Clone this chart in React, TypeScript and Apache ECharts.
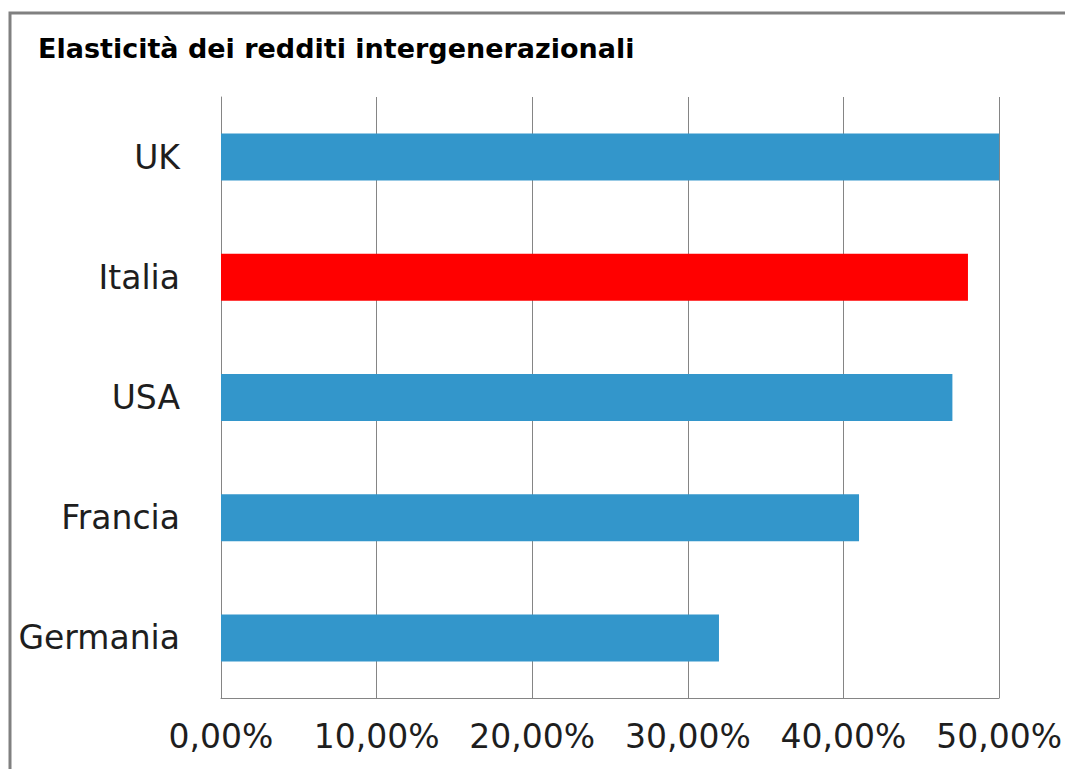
import React, { useEffect, useRef } from "react";
import * as echarts from "echarts";

const titleText = "Elasticità dei redditi intergenerazionali";
const countries = ["UK", "Italia", "USA", "Francia", "Germania"];
const elasticity = [50, 48, 47, 41, 32];
const barColors = ["#3396cb", "#ff0000", "#3396cb", "#3396cb", "#3396cb"];
const axisMax = 50;
const axisStep = 10;

export default function App() {
  const ref = useRef<HTMLDivElement>(null);
  useEffect(() => {
    if (!ref.current) return;
    const chart = echarts.init(ref.current, undefined, { renderer: "svg" });
    chart.setOption({
      animation: false,
      backgroundColor: "#ffffff",
      graphic: [
        {
          type: "polyline",
          shape: { points: [[10, 800], [10, 13], [1100, 13]] },
          style: { fill: "none", stroke: "#808080", lineWidth: 3 },
          silent: true,
        },
        {
          type: "text",
          x: 38,
          y: 48,
          style: {
            text: titleText,
            fontFamily: "DejaVu Sans",
            fontWeight: "bold",
            fontSize: 27,
            fill: "#000000",
            verticalAlign: "middle",
            align: "left",
          },
        },
      ],
      grid: { left: 221, right: 65, top: 97, bottom: 71, containLabel: false },
      xAxis: {
        type: "value",
        min: 0,
        max: axisMax,
        interval: axisStep,
        axisLine: { show: true, lineStyle: { color: "#858585", width: 1 } },
        axisTick: { show: false },
        splitLine: { show: true, lineStyle: { color: "#858585", width: 1 } },
        axisLabel: {
          margin: 22,
          fontFamily: "DejaVu Sans",
          fontSize: 33,
          color: "#1e1e1e",
          formatter: (v: number) => v.toFixed(2).replace(".", ",") + "%",
        },
      },
      yAxis: {
        type: "category",
        data: countries,
        inverse: true,
        axisLine: { show: true, lineStyle: { color: "#858585", width: 1 } },
        axisTick: { show: false },
        splitLine: { show: false },
        axisLabel: {
          margin: 41,
          fontFamily: "DejaVu Sans",
          fontSize: 33,
          color: "#1e1e1e",
        },
      },
      series: [
        {
          type: "bar",
          barWidth: 47,
          data: elasticity.map((v, i) => ({ value: v, itemStyle: { color: barColors[i] } })),
        },
      ],
    });
    return () => chart.dispose();
  }, []);
  return (
    <div
      ref={ref}
      style={{ position: "absolute", left: 0, top: 0, width: 1065, height: 769 }}
    />
  );
}
